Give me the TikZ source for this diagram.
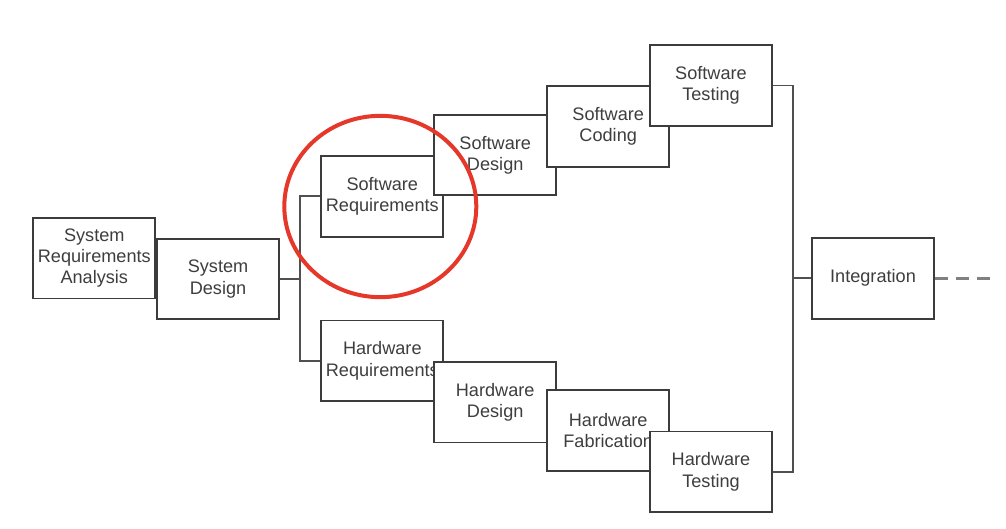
\documentclass[tikz,border=0pt]{standalone}
\usepackage{fontspec}
\setmainfont{Liberation Sans}
\definecolor{boxline}{HTML}{3C3C3C}
\definecolor{boxtext}{HTML}{3E3E3E}
\definecolor{markred}{HTML}{E5382B}
\begin{document}
\begin{tikzpicture}[x=0.75pt,y=-0.75pt,
    box/.style={draw=boxline,line width=1.4pt,fill=white,text=boxtext,
      minimum width=91.5pt,minimum height=60.5pt,inner sep=0pt,align=center,
      font=\fontsize{13.6}{16}\selectfont},
    link/.style={draw=boxline!90,line width=1.4pt}]
      \useasboundingbox (0,0) rectangle (1006,528);
      \coordinate (busl) at (300,279);
      \coordinate (busr) at (793.3,278.3);
      \coordinate (tail) at (990,278.3);
      \draw
        (94.3,258.2) node[box] (sra){System\\Requirements\\Analysis}
        (218,279) node[box] (sysd){System\\Design}
        (382.3,196.3) node[box] (swreq){Software\\Requirements}
        (495.2,155) node[box] (swdes){Software\\Design}
        (608.2,126.5) node[box] (swcod){Software\\Coding}
        (711,85.5) node[box] (swtest){Software\\Testing}
        (382.3,360.8) node[box] (hwreq){Hardware\\Requirements}
        (495.2,402.2) node[box] (hwdes){Hardware\\Design}
        (608.2,430.5) node[box] (hwfab){Hardware\\Fabrication}
        (711,471.8) node[box] (hwtest){Hardware\\Testing}
        (873,278.3) node[box] (integ){Integration};
      \begin{scope}[link]
        \draw (sysd) to (busl);
        \draw (swreq.west) -| (busl) |- (hwreq.west);
        \draw (swtest.east) -| (busr) |- (hwtest.east);
        \draw (busr) to (integ);
        \draw[draw=gray,line width=1.9pt,dash pattern=on 9.45pt off 6.45pt] (integ) to (tail);
      \end{scope}
      \draw[markred,line width=3pt] (380.3,206.5) ellipse [x radius=72pt,y radius=68pt];
    \end{tikzpicture}
\end{document}
